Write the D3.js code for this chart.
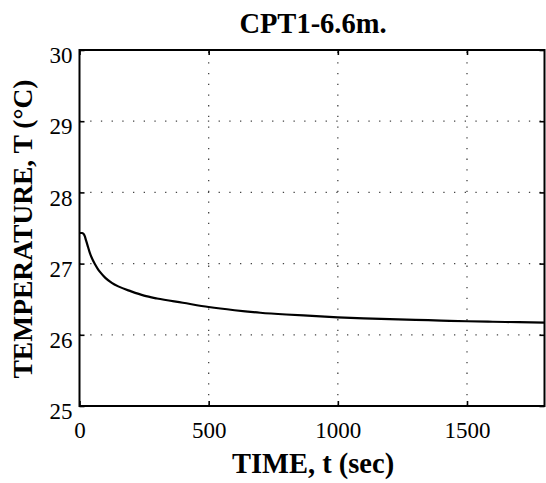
<!DOCTYPE html>
<html><head><meta charset="utf-8">
<script src="https://cdn.jsdelivr.net/npm/d3@7"></script>
<style>body{margin:0;background:#fff}svg{display:block}</style>
</head><body>
<script>
const title = "CPT1-6.6m.";
const xLabel = "TIME, t (sec)";
const yLabel = "TEMPERATURE, T (°C)";
const xTicks = [0, 500, 1000, 1500];
const yTicks = [25, 26, 27, 28, 29, 30];
const timeSec = [0, 10, 15, 20, 25, 30, 40, 50, 60, 70, 80, 100, 125, 150, 200, 250, 300, 400, 500, 600, 700, 800, 900, 1000, 1100, 1200, 1300, 1400, 1500, 1600, 1700, 1800];
const tempC = [27.43, 27.43, 27.42, 27.39, 27.33, 27.27, 27.15, 27.06, 26.99, 26.93, 26.88, 26.80, 26.73, 26.68, 26.61, 26.55, 26.51, 26.45, 26.39, 26.345, 26.31, 26.285, 26.265, 26.245, 26.23, 26.22, 26.21, 26.20, 26.19, 26.183, 26.177, 26.17];

const W = 546, H = 483;
const m = {left: 79.5, right: 544.5, top: 50, bottom: 406};
const svg = d3.select("body").append("svg").attr("width", W).attr("height", H);
const font = "'Liberation Serif','Times New Roman',serif";

const x = d3.scaleLinear().domain([0, 1800]).range([m.left, m.right]);
const y = d3.scaleLinear().domain([25, 30]).range([m.bottom, m.top]);

// grid
const g = svg.append("g").attr("stroke", "#444").attr("stroke-width", 1.3).attr("stroke-dasharray", "1.3,9.4");
g.selectAll("line.v").data(xTicks.filter(d => d > 0)).join("line")
  .attr("x1", d => x(d)).attr("x2", d => x(d)).attr("y1", m.bottom).attr("y2", m.top);
g.selectAll("line.h").data(yTicks.filter(d => d > 25 && d < 30)).join("line")
  .attr("y1", d => y(d)).attr("y2", d => y(d)).attr("x1", m.left).attr("x2", m.right);

// axes (inner ticks)
const ax = svg.append("g");
const xb = ax.append("g").attr("transform", `translate(0,${m.bottom})`)
  .call(d3.axisBottom(x).tickValues(xTicks).tickSize(-5).tickPadding(10).tickFormat(d3.format("d")));
const xt = ax.append("g").attr("transform", `translate(0,${m.top})`)
  .call(d3.axisTop(x).tickValues(xTicks).tickSize(-5).tickFormat(""));
const yl = ax.append("g").attr("transform", `translate(${m.left},0)`)
  .call(d3.axisLeft(y).tickValues(yTicks).tickSize(-5).tickPadding(7).tickFormat(d3.format("d")));
const yr = ax.append("g").attr("transform", `translate(${m.right},0)`)
  .call(d3.axisRight(y).tickValues(yTicks).tickSize(-5).tickFormat(""));
[xb, xt, yl, yr].forEach(a => {
  a.attr("font-family", font);
  a.select(".domain").remove();
  a.selectAll(".tick line").attr("stroke", "#000").attr("stroke-width", 1.6);
});
xb.selectAll(".tick text").attr("font-family", font).attr("font-size", 23).attr("fill", "#000").attr("dy", "0.95em");
yl.selectAll(".tick text").attr("font-family", font).attr("font-size", 23).attr("fill", "#000").attr("dy", "0.55em");

// box
svg.append("rect").attr("x", m.left).attr("y", m.top)
  .attr("width", m.right - m.left).attr("height", m.bottom - m.top)
  .attr("fill", "none").attr("stroke", "#000").attr("stroke-width", 2);

// curve
svg.append("path").datum(timeSec.map((t, i) => [t, tempC[i]]))
  .attr("fill", "none").attr("stroke", "#000").attr("stroke-width", 2.2)
  .attr("d", d3.line().x(d => x(d[0])).y(d => y(d[1])).curve(d3.curveMonotoneX));

// labels
svg.append("text").attr("x", (m.left + m.right) / 2 + 1).attr("y", 33)
  .attr("text-anchor", "middle").attr("font-family", font).attr("font-weight", "bold")
  .attr("font-size", 28.5).text(title);
svg.append("text").attr("x", (m.left + m.right) / 2 + 1).attr("y", 473)
  .attr("text-anchor", "middle").attr("font-family", font).attr("font-weight", "bold")
  .attr("font-size", 28.5).text(xLabel);
svg.append("text").attr("transform", `translate(32,229) rotate(-90)`)
  .attr("text-anchor", "middle").attr("font-family", font).attr("font-weight", "bold")
  .attr("font-size", 27.5).text(yLabel);
</script>
</body></html>
